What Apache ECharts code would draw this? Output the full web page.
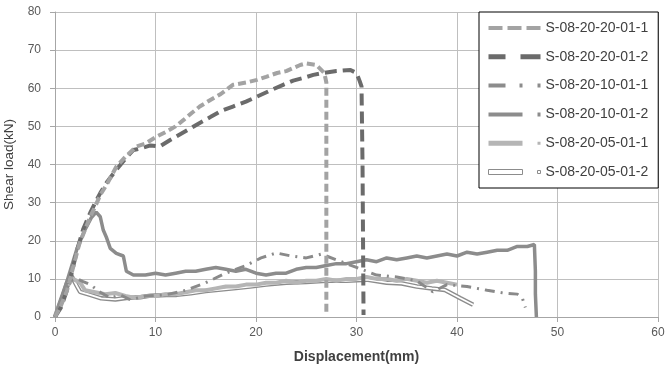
<!DOCTYPE html>
<html>
<head>
<meta charset="utf-8">
<script src="https://cdn.jsdelivr.net/npm/echarts@6/dist/echarts.min.js"></script>
<style>html,body{margin:0;padding:0;background:#fff}#c{width:668px;height:366px}</style>
</head>
<body>
<div id="c"></div>
<script>
const seriesNames = ['S-08-20-20-01-1','S-08-20-20-01-2','S-08-20-10-01-1','S-08-20-10-01-2','S-08-20-05-01-1','S-08-20-05-01-2'];
const xTicks = [0,10,20,30,40,50,60];
const yTicks = [0,10,20,30,40,50,60,70,80];

const s1 = [[0,0],[0.6,3],[1.2,7],[1.8,13],[2.4,19],[3,23],[3.5,26.3],[4,29],[4.5,32],[5.2,35],[6.1,39.4],[7,42],[8.1,44.7],[9,45.5],[10.1,47.3],[11,48.5],[12,50],[12.8,51.7],[13.6,53.5],[14.4,55.2],[15.5,57],[16.5,58.5],[17.7,60.9],[19,61.5],[20.1,62.2],[21,63],[22.1,64],[23,64.5],[24.4,66.1],[25,66.5],[26,66.1],[26.8,64],[27,61.5],[27,30],[27,0.5]];
const s2 = [[0,0],[0.6,2.5],[1.2,7.1],[1.7,12],[2.2,17.6],[2.8,23],[3.5,27.3],[4,30],[4.5,32.5],[5.2,35.5],[6.1,38.6],[7,41.5],[7.8,43.8],[8.5,44.2],[9.5,45],[10.4,44.7],[11.5,46.5],[12.5,48],[13.5,49.5],[14.4,50.9],[15.5,52.5],[16.5,54],[17.7,55.2],[19,56.5],[20.1,57.8],[21.5,59.5],[22.7,60.9],[23.7,62],[24.7,62.7],[25.7,63.5],[26.7,64],[28,64.5],[29.4,64.8],[30,64],[30.3,62],[30.5,60.5],[30.6,40],[30.7,0.5]];
const s3 = [[0,0],[0.5,3],[1,6.5],[1.6,9.5],[2.2,10],[2.8,9.3],[3.5,8.5],[4.5,6.5],[5.5,5],[6.5,5.8],[7.5,4.5],[9,5.5],[11,5.8],[13,7],[15,9],[17,11.5],[19,13.5],[20.5,15.5],[22,16.8],[23.5,16],[25,15.5],[26.5,16.5],[28,15],[30,13],[32,11],[34,10.5],[36,9.5],[37.6,6.6],[39,8.5],[41,8],[43,7],[44.6,6.3],[46,6],[46.5,5],[46.8,2.5]];
const s4 = [[0,0],[0.8,6],[1.5,12],[2.2,18],[3,23],[3.6,26],[4.1,27.5],[4.5,26.3],[4.8,22.8],[5.1,21],[5.5,18],[6.1,16.7],[6.8,16],[7.1,12],[7.8,11],[9,11],[10,11.5],[11,11],[12,11.5],[13,12],[14,12],[15,12.5],[16,13],[17,12.5],[18,12],[19,12.5],[20,11.5],[21,11],[22,11.5],[23,11.5],[24,12.5],[25,13],[26,13],[27,13.5],[28,14],[29,14],[30,14.5],[31,15],[32,14.5],[33,15.5],[34,15],[35,15.5],[36,16],[37,15.5],[38,16],[39,16.5],[40,16],[41,17],[42,16.5],[43,17],[44,17.5],[45,17.5],[46,18.5],[47,18.5],[47.7,19],[47.8,12],[47.8,6],[47.9,0]];
const s5 = [[0,0],[0.6,4],[1.2,8],[1.8,10],[2.5,9],[3,7],[4,6.5],[5,6],[6,6.3],[7,5.5],[8,5],[9,5.5],[10,5.5],[11,6],[12,6],[13,6.5],[14,7],[15,7],[16,7.5],[17,8],[18,8],[19,8.5],[20,8.5],[21,9],[22,9],[23,9.5],[24,9],[25,9.5],[26,9.5],[27,10],[28,9.5],[29,10],[30,10],[31,10.5],[32,10],[33,10],[34,9.5],[35,10],[36,9.5],[37,9],[38,9.5],[39,9],[40,8.5]];
const s6 = [[0,0],[0.4,3],[0.8,6],[1.2,9],[1.6,11],[2.2,8],[2.5,6.6],[3.5,5.8],[4.6,4.9],[6,4.6],[7.1,5],[8.5,5.2],[9.5,5.6],[11.1,5.8],[12.1,5.8],[13.5,6.2],[15,6.8],[16.5,7.2],[18,7.6],[19.4,8],[21,8.5],[23,9],[25,9.2],[27,9.5],[29,9.5],[31,9.8],[33,9],[34.5,8.8],[36,8],[37.5,7.5],[38.8,7.1],[40.3,5],[41.6,3.2]];

const font = 'Liberation Sans';
const chart = echarts.init(document.getElementById('c'), null, {renderer:'canvas'});

function line(name, data, color, width, type, z) {
  return {name, type:'line', data, symbol:'none', animation:false, z: z || 2,
    lineStyle:{color, width, type: type || 'solid'}, itemStyle:{color}};
}

const legendIcons = [
  'path://M0,0H14V4H0Z M19,0H33V4H19Z M38,0H52V4H38Z',
  'path://M0,0H17V5H0Z M32,0H52V5H32Z',
  'path://M0,0H17V4H0Z M31,0H34V4H31Z M49,0H52V4H49Z',
  'path://M0,0H34V4H0Z M49,0H52V4H49Z',
  'path://M0,0H34V5H0Z M49,1H52V4H49Z',
  'path://M0,0H34V5H0Z M49,1H52V4H49Z'
];
const legendColors = ['#a3a3a3','#6b6b6b','#8c8c8c','#8c8c8c','#b5b5b5','#ffffff'];

chart.setOption({
  backgroundColor:'#fff',
  animation:false,
  grid:{left:55, right:10, top:12, bottom:49, containLabel:false, outerBoundsMode:'none'},
  xAxis:{type:'value', min:0, max:60, interval:10,
    name:'Displacement(mm)', nameLocation:'middle', nameGap:33,
    nameTextStyle:{fontFamily:font, fontSize:14, fontWeight:'bold', color:'#404040'},
    axisLine:{lineStyle:{color:'#a6a6a6'}},
    axisTick:{show:true, length:5, lineStyle:{color:'#a6a6a6'}},
    axisLabel:{fontFamily:font, fontSize:12, color:'#595959', margin:10,
      formatter:v => xTicks.includes(v) ? String(v) : ''},
    splitLine:{show:true, lineStyle:{color:'#bfbfbf', width:1}}},
  yAxis:{type:'value', min:0, max:80, interval:10,
    name:'Shear load(kN)', nameLocation:'middle', nameGap:38,
    nameTextStyle:{fontFamily:font, fontSize:13.5, color:'#404040'},
    axisLine:{show:true, lineStyle:{color:'#a6a6a6'}},
    axisTick:{show:true, length:5, lineStyle:{color:'#a6a6a6'}},
    axisLabel:{fontFamily:font, fontSize:12, color:'#595959', margin:14,
      formatter:v => yTicks.includes(v) ? String(v) : ''},
    splitLine:{show:true, lineStyle:{color:'#bfbfbf', width:1}}},
  legend:{left:479, top:12, orient:'vertical', selectedMode:false,
    backgroundColor:'#fff', borderColor:'#000', borderWidth:1,
    padding:[9,10,9,9], itemWidth:52, itemHeight:14, itemGap:14.8,
    textStyle:{fontFamily:font, fontSize:14, color:'#404040'},
    data: seriesNames.map((n,i) => ({name:n, icon:legendIcons[i],
      itemStyle: i === 5 ? {color:'#fff', borderColor:'#8c8c8c', borderWidth:1}
                         : {color:legendColors[i], borderWidth:0}}))},
  series:[
    line(seriesNames[5], s6, '#8c8c8c', 4.5, 'solid', 2),
    {name:'_inner', type:'line', data:s6, symbol:'none', animation:false, z:2,
      lineStyle:{color:'#ffffff', width:1.8}},
    line(seriesNames[4], s5, '#b5b5b5', 4, 'solid', 3),
    line(seriesNames[2], s3, '#8a8a8a', 3, [10,6,2,6], 3),
    line(seriesNames[3], s4, '#8c8c8c', 3.5, 'solid', 3),
    line(seriesNames[1], s2, '#6b6b6b', 4, [12,6], 4),
    line(seriesNames[0], s1, '#a3a3a3', 4, [8,4], 5)
  ]
});
</script>
</body>
</html>
